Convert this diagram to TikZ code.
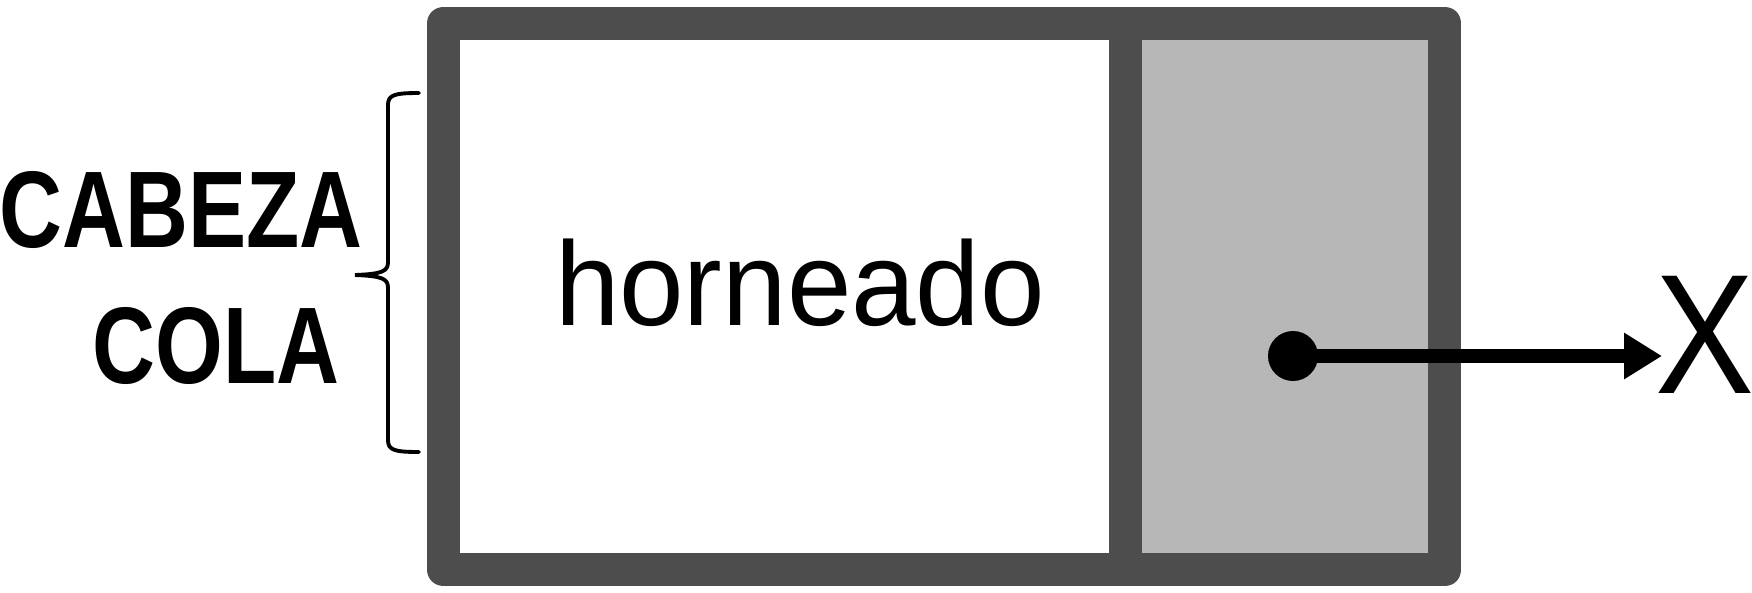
\documentclass[tikz,border=0pt]{standalone}
\usepackage{fontspec}
\usetikzlibrary{
  arrows.meta,
  positioning,
}
\newfontfamily\cellfont[FakeStretch=0.97]{Liberation Sans}
\newfontfamily\tagfont[FakeStretch=0.8]{Liberation Sans Bold}
\newfontfamily\nilfont[FakeStretch=0.87]{Liberation Sans}
\definecolor{cellborder}{RGB}{77,77,77}
\definecolor{cellgray}{RGB}{183,183,183}
\tikzstyle{cell} = [
  rectangle,
  draw=cellborder,
  line width=18.8pt,
  line join=round,
  outer sep=0pt,
  inner sep=0pt,
  minimum height=10.94cm,
]
\tikzstyle{pointer} = [
  -{Triangle[length=21.6pt,width=25pt]},
  line width=8pt,
  black,
]
\tikzstyle{tag} = [
  font=\tagfont\fontsize{62}{70}\selectfont,
  inner sep=0pt,
]

\begin{document}
\begin{tikzpicture}[x=0.02cm,y=-0.02cm,node distance=0mm and 0mm]
      \useasboundingbox (0,0) rectangle (1752,592);

      \node[cell,fill=cellgray,minimum width=6.4cm] (next) at (1285,296.5) {};
      \node[cell,fill=white,minimum width=13.63cm] (data) [left=of next] {};
      \node[inner sep=0pt,font=\cellfont\fontsize{68}{80}\selectfont] (value) at (800,282.5) {horneado};

      \node[tag] (cabeza) at (181,210) {CABEZA};
      \node[tag] (cola)   at (216,346) {COLA};

      % brace
      \coordinate (bracetop) at (419,93);
      \coordinate (bracetip) at (355,275);
      \coordinate (bracebot) at (419,452);
      \draw[line width=2.2pt,line cap=round] (bracetop) .. controls (394,93) and (388,95) .. (388,105)
        -- (388,262) .. controls (388,271) and (383,274) .. (bracetip)
        .. controls (383,276) and (388,279) .. (388,288)
        -- (388,440) .. controls (388,450) and (394,452) .. (bracebot);

      \node[circle,fill=black,inner sep=0pt,minimum size=1cm] (dot) at (1293,356) {};
      \coordinate (tip) at (1662,356);
      \node[inner sep=0pt,font=\nilfont\fontsize{97}{100}\selectfont] (nil) at (1705,335) {X};

      \draw[pointer] (dot.center) -- (tip);

    \end{tikzpicture}
\end{document}
